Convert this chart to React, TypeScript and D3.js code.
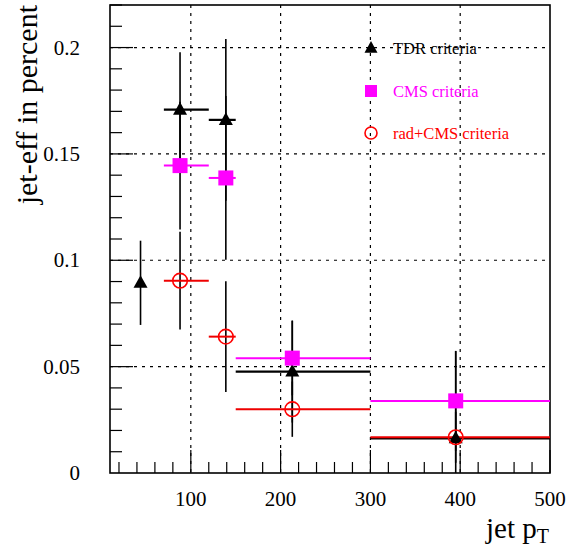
import React from "react";
import * as d3 from "d3";

const W = 583;
const H = 554;

// TDR criteria (black triangles)
const tdrX = [44, 88, 139, 213, 395];
const tdrY = [0.0894, 0.1708, 0.166, 0.0477, 0.0163];
const tdrEy = [0.0198, 0.027, 0.038, 0.024, 0.041];
const tdrXlo = [null, 70, 120, 150, 300];
const tdrXhi = [null, 120, 150, 300, 500];

// CMS criteria (magenta squares)
const cmsX = [88, 139, 213, 395];
const cmsY = [0.1445, 0.1387, 0.054, 0.0339];
const cmsEy = [0.03, 0.0385, 0.0175, 0.0235];
const cmsXlo = [70, 120, 150, 300];
const cmsXhi = [120, 150, 300, 500];

// rad+CMS criteria (red open circles)
const radX = [88, 139, 213, 395];
const radY = [0.0904, 0.0641, 0.030, 0.0168];
const radEy = [0.023, 0.026, 0.013, 0.012];
const radXlo = [70, 120, 150, 300];
const radXhi = [120, 150, 300, 500];

const xTickLabels = [100, 200, 300, 400, 500];
const yTickLabels = [0, 0.05, 0.1, 0.15, 0.2];
const legendLabels = ["TDR criteria", "CMS criteria", "rad+CMS criteria"];

const FONT = "'Liberation Serif', 'Times New Roman', serif";

export default function App() {
  const left = 110, right = 550, top = 5, bottom = 473;
  const x = d3.scaleLinear().domain([10, 500]).range([left, right]);
  const y = d3.scaleLinear().domain([0, 0.22]).range([bottom, top]);

  const xMinor = d3.range(20, 501, 20);
  const yMinor = d3.range(0.01, 0.2201, 0.01);

  const clipY = (v: number) => Math.max(top, Math.min(bottom, y(v)));

  const tri = (cx: number, cy: number, s: number) => {
    const h = s * 0.9;
    return `M${cx},${cy - h * 0.6} L${cx + s / 2},${cy + h * 0.4} L${cx - s / 2},${cy + h * 0.4} Z`;
  };

  const vbars = (xs: number[], ys: number[], es: number[], key: string) =>
    xs.map((xv, i) => (
      <line key={key + i} x1={x(xv)} x2={x(xv)} y1={clipY(ys[i] + es[i])} y2={clipY(ys[i] - es[i])}
        stroke="#000" strokeWidth={1.6} />
    ));
  const hbars = (lo: (number | null)[], hi: (number | null)[], ys: number[], color: string, key: string, sw = 2) =>
    lo.map((l, i) => l == null ? null : (
      <line key={key + i} x1={x(l)} x2={x(hi[i] as number)} y1={y(ys[i])} y2={y(ys[i])}
        stroke={color} strokeWidth={sw} />
    ));

  return (
    <svg width={W} height={H} style={{ position: "absolute", left: 0, top: 0, background: "#fff" }}
      fontFamily={FONT}>
      <rect x={0} y={0} width={W} height={H} fill="#fff" />
      {/* grid */}
      {xTickLabels.filter(v => v < 500).map(v => (
        <line key={"gx" + v} x1={x(v)} x2={x(v)} y1={top} y2={bottom} stroke="#000" strokeWidth={1.2} strokeDasharray="3,5" />
      ))}
      {yTickLabels.filter(v => v > 0).map(v => (
        <line key={"gy" + v} x1={left} x2={right} y1={y(v)} y2={y(v)} stroke="#000" strokeWidth={1.2} strokeDasharray="3,5" />
      ))}
      {/* ticks */}
      {yMinor.map(v => {
        const major = Math.abs(v / 0.05 - Math.round(v / 0.05)) < 1e-6;
        return <line key={"ty" + v} x1={left} x2={left + (major ? 23 : 12)} y1={y(v)} y2={y(v)} stroke="#000" strokeWidth={1.2} />;
      })}
      {xMinor.map(v => {
        const major = v % 100 === 0;
        return <line key={"tx" + v} x1={x(v)} x2={x(v)} y1={bottom} y2={bottom - (major ? 23 : 11)} stroke="#000" strokeWidth={1.2} />;
      })}
      {/* frame */}
      <rect x={left} y={top} width={right - left} height={bottom - top} fill="none" stroke="#000" strokeWidth={1.6} />
      {/* tick labels */}
      {xTickLabels.map(v => (
        <text key={"lx" + v} x={x(v)} y={506} textAnchor="middle" fontSize={21}>{v}</text>
      ))}
      {yTickLabels.map(v => (
        <text key={"ly" + v} x={80} y={y(v) + 7} textAnchor="end" fontSize={21}>{String(v)}</text>
      ))}
      {/* axis titles */}
      <text transform={`translate(37,5) rotate(-90)`} textAnchor="end" fontSize={30}>jet-eff in percent</text>
      <text x={549} y={538} textAnchor="end" fontSize={29}>
        jet p<tspan fontSize={20} dy={5}>T</tspan>
      </text>
      {/* error bars */}
      {vbars(tdrX, tdrY, tdrEy, "tv")}
      {vbars(cmsX, cmsY, cmsEy, "cv")}
      {vbars(radX, radY, radEy, "rv")}
      {hbars(tdrXlo, tdrXhi, tdrY, "#000", "th", 2.2)}
      {hbars(cmsXlo, cmsXhi, cmsY, "#ff00ff", "ch")}
      {hbars(radXlo, radXhi, radY, "#ee0000", "rh")}
      {/* markers */}
      {tdrX.map((xv, i) => <path key={"tm" + i} d={tri(x(xv), y(tdrY[i]), 14)} fill="#000" />)}
      {cmsX.map((xv, i) => <rect key={"cm" + i} x={x(xv) - 7.5} y={y(cmsY[i]) - 7.5} width={15} height={15} fill="#ff00ff" />)}
      {radX.map((xv, i) => <circle key={"rm" + i} cx={x(xv)} cy={y(radY[i])} r={7.3} fill="none" stroke="#ff0000" strokeWidth={1.6} />)}
      {/* legend */}
      <path d={tri(371, 48, 13)} fill="#000" />
      <text x={393} y={54} fontSize={16.5} fill="#000">{legendLabels[0]}</text>
      <rect x={371 - 6} y={91 - 6} width={12} height={12} fill="#ff00ff" />
      <text x={393} y={97} fontSize={16.5} fill="#ff00ff">{legendLabels[1]}</text>
      <circle cx={371} cy={133} r={6} fill="none" stroke="#ff0000" strokeWidth={1.6} />
      <text x={393} y={139} fontSize={16.5} fill="#ff0000">{legendLabels[2]}</text>
    </svg>
  );
}
